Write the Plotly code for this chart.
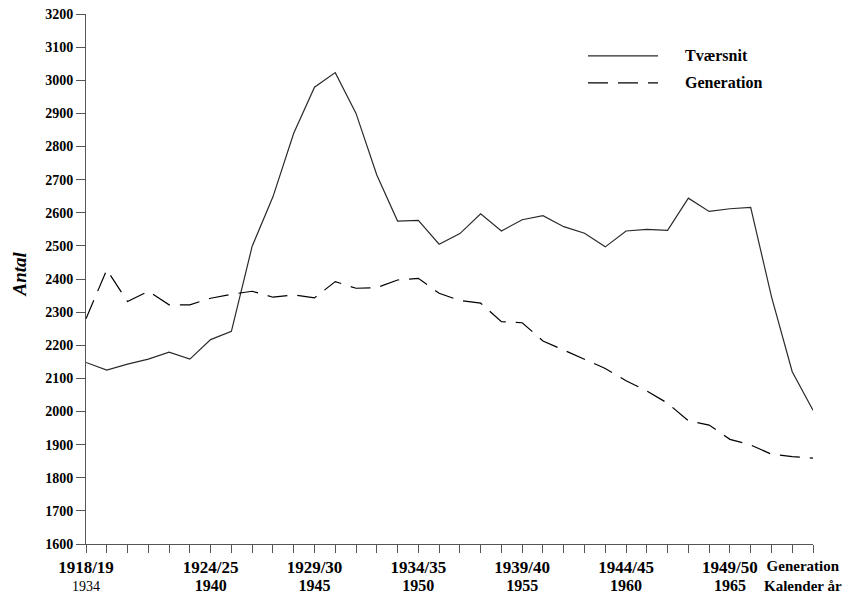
import plotly.graph_objects as go

# ---- data ----
positions = list(range(36))  # cohorts 1918/19 ... (one per year)

tvaersnit = [2148, 2125, 2143, 2158, 2179, 2158, 2217, 2242, 2499, 2648,
             2840, 2979, 3023, 2900, 2714, 2575, 2577, 2505, 2537, 2597,
             2545, 2579, 2591, 2558, 2538, 2497, 2545, 2550, 2547, 2644,
             2604, 2612, 2616, 2347, 2120, 2004]

generation = [2280, 2428, 2332, 2363, 2322, 2322, 2342, 2354, 2363, 2345,
              2352, 2343, 2392, 2372, 2374, 2397, 2402, 2357, 2335, 2327,
              2271, 2268, 2213, 2186, 2157, 2130, 2093, 2062, 2025, 1972,
              1959, 1916, 1899, 1871, 1864, 1859]

label_positions = [0, 6, 11, 16, 21, 26, 31]
cohort_labels = ["1918/19", "1924/25", "1929/30", "1934/35", "1939/40", "1944/45", "1949/50"]
calendar_labels = ["1934", "1940", "1945", "1950", "1955", "1960", "1965"]
row_labels = ["Generation", "Kalender år"]
series_names = ["Tværsnit", "Generation"]
y_title = "Antal"

FONT = "Liberation Serif"

# build tick texts
ticktext = []
for p in positions:
    if p in label_positions:
        i = label_positions.index(p)
        top = "<b><span style='font-size:17px'>%s</span></b>" % cohort_labels[i]
        if i == 0:
            bot = "<span style='font-size:14px'>%s</span>" % calendar_labels[i]
        else:
            bot = "<b><span style='font-size:16px'>%s</span></b>" % calendar_labels[i]
        ticktext.append(top + "<br>" + bot)
    else:
        ticktext.append("")

fig = go.Figure()
fig.add_trace(go.Scatter(x=positions, y=tvaersnit, mode="lines", name=series_names[0],
                         line=dict(color="#2a2a2a", width=1.2), showlegend=False))
fig.add_trace(go.Scatter(x=positions, y=generation, mode="lines", name=series_names[1],
                         line=dict(color="#000000", width=1.2, dash="20px,10px"), showlegend=False))

fig.update_layout(
    width=844, height=590,
    margin=dict(l=78, r=39, t=6, b=54, autoexpand=False),
    paper_bgcolor="white", plot_bgcolor="white",
    font=dict(family=FONT, color="black"),
    xaxis=dict(range=[0, 35], tickmode="array", tickvals=positions, ticktext=ticktext,
               showline=True, linecolor="#555", linewidth=1, ticks="outside", ticklen=8,
               tickcolor="#555", showgrid=False, zeroline=False, automargin=False,
               ticklabeloverflow="allow", ticklabelstandoff=3,
               tickfont=dict(family=FONT, size=14, color="black")),
    yaxis=dict(range=[1600, 3200], tick0=1600, dtick=100, showline=True, linecolor="#555",
               linewidth=1, ticks="outside", ticklen=9, tickcolor="#555", showgrid=False,
               zeroline=False, automargin=False, ticklabeloverflow="allow",
               tickfont=dict(family=FONT, size=14, color="black", weight="bold")),
)

# y-axis title
fig.add_annotation(x=-0.091, xref="paper", y=0.51, yref="paper", xanchor="center",
                   yanchor="middle", textangle=-90, showarrow=False,
                   text="<b><i>%s</i></b>" % y_title,
                   font=dict(family=FONT, size=19, color="black"))

# row labels at the last tick
fig.add_annotation(x=35, xref="x", y=0, yref="paper", xanchor="center", yanchor="top",
                   xshift=-10, yshift=-12, showarrow=False, align="center",
                   text="<b>%s</b><br><b>%s</b>" % (row_labels[0], row_labels[1]),
                   font=dict(family=FONT, size=15, color="black"))

# legend drawn manually (long line samples)
legend_rows = [(0.921, dict(color="#2a2a2a", width=1.2, dash="solid")),
               (0.870, dict(color="#000000", width=1.2, dash="20px,10px"))]
for (yy, ln), name in zip(legend_rows, series_names):
    fig.add_shape(type="line", xref="paper", yref="paper", x0=0.6905, x1=0.7868,
                  y0=yy, y1=yy, line=ln)
    fig.add_annotation(x=0.8212, xref="paper", y=yy, yref="paper", xanchor="left",
                       yanchor="middle", showarrow=False, text="<b>%s</b>" % name,
                       font=dict(family=FONT, size=16, color="black"))

fig.write_html("out.html")
